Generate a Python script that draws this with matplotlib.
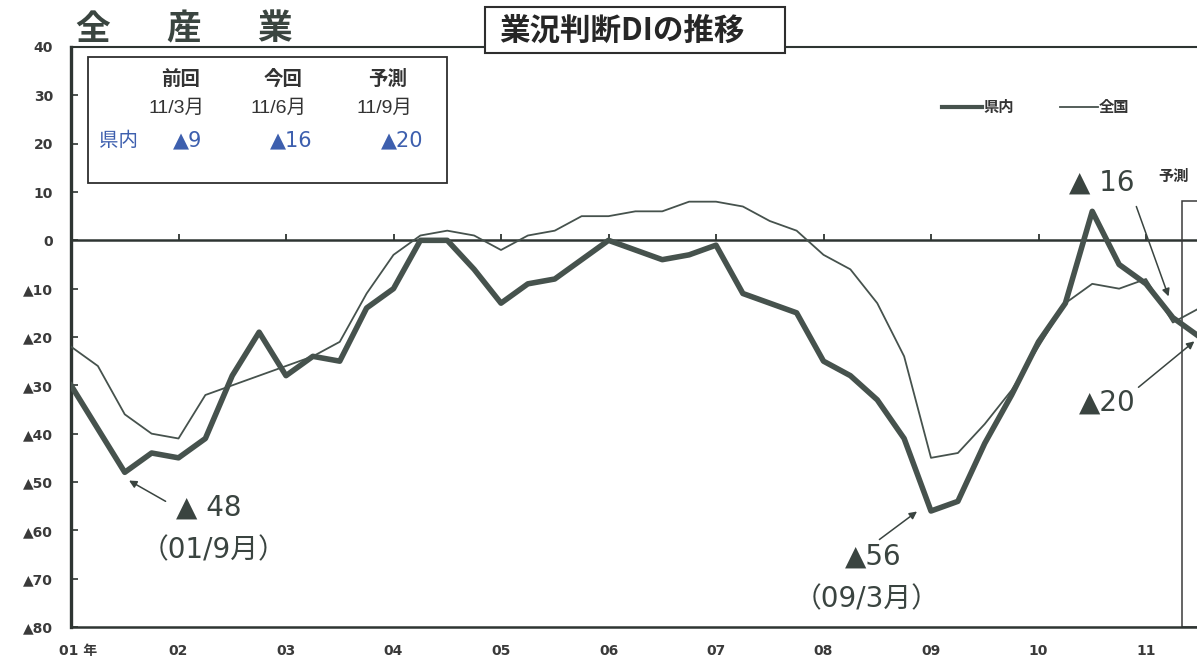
import matplotlib
matplotlib.use("Agg")
import matplotlib.pyplot as plt
from matplotlib.patches import Rectangle

# ---- data: quarterly business-conditions DI (survey months 3, 6, 9, 12) ----
years = list(range(2001, 2012))
quarter_months = [3, 6, 9, 12]

# 県内 (prefecture), 2001/3 ... 2011/9 (last value = forecast)
pref_di = [-30, -39, -48, -44,
           -45, -41, -28, -19,
           -28, -24, -25, -14,
           -10, 0, 0, -6,
           -13, -9, -8, -4,
           0, -2, -4, -3,
           -1, -11, -13, -15,
           -25, -28, -33, -41,
           -56, -54, -42, -32,
           -21, -13, 6, -5,
           -9, -16, -20]

# 全国 (nationwide)
national_di = [-22, -26, -36, -40,
               -41, -32, -30, -28,
               -26, -24, -21, -11,
               -3, 1, 2, 1,
               -2, 1, 2, 5,
               5, 6, 6, 8,
               8, 7, 4, 2,
               -3, -6, -13, -24,
               -45, -44, -38, -31,
               -22, -13, -9, -10,
               -8, -17, -14]

year_labels = ["01 年", "02", "03", "04", "05", "06", "07", "08", "09", "10", "11"]
y_ticks = [40, 30, 20, 10, 0, -10, -20, -30, -40, -50, -60, -70, -80]

summary_heads = ["前回", "今回", "予測"]
summary_periods = ["11/3月", "11/6月", "11/9月"]
summary_values = pref_di[-3:]

series_names = ["県内", "全国"]

# ---- helpers ----
W, H = 1197, 666
LINE = "#46524d"
TEXT = "#333333"
BLUE = "#3d5fae"
JP = ["Noto Sans CJK JP", "DejaVu Sans"]
NUM = ["DejaVu Sans", "Noto Sans CJK JP"]
LAT = ["Liberation Sans", "Noto Sans CJK JP", "DejaVu Sans"]


def fx(px):
    return px / W


def fy(py):
    return 1 - py / H


def tri(v):
    return "▲" + str(abs(v)) if v < 0 else str(v)


periods = [(y, m) for y in years for m in quarter_months][:len(pref_di)]
x = [y + (m - 3) / 12 for y, m in periods]

fig = plt.figure(figsize=(W / 100, H / 100), dpi=100)
fig.patch.set_facecolor("white")

x0, x1 = 2001.0, 2011.6
year_px = 107.5
ax = fig.add_axes([fx(71), fy(627), (x1 - x0) * year_px / W, 580 / H])
ax.set_xlim(x0, x1)
ax.set_ylim(-80, 40)

ax.plot(x, national_di, color=LINE, lw=1.3, solid_joinstyle="round", zorder=3)
ax.plot(x, pref_di, color=LINE, lw=4.0, solid_joinstyle="round", zorder=4)

# zero line with small year marks
ax.axhline(0, color="#2e3532", lw=1.8, zorder=2)
ax.vlines(years[1:], 0, 1.3, color="#2e3532", lw=1.3, zorder=2)

# spines
for side in ["left", "bottom", "top", "right"]:
    ax.spines[side].set_color("#2e3532")
ax.spines["left"].set_linewidth(2.4)
ax.spines["bottom"].set_linewidth(1.8)
ax.spines["top"].set_linewidth(1.5)
ax.spines["right"].set_visible(False)

ax.set_yticks(y_ticks)
ax.set_yticklabels([tri(v) for v in y_ticks], fontsize=10, fontweight="bold",
                   color="#3a3a3a", family=NUM)
ax.tick_params(axis="y", direction="in", length=5, width=1.2, pad=13,
               color="#2e3532")

label_pos = [years[0] + 0.07] + years[1:]
ax.set_xticks(label_pos)
ax.set_xticklabels(year_labels, fontsize=10, fontweight="bold",
                   color="#3a3a3a", family=NUM)
ax.tick_params(axis="x", length=0, pad=12)

# forecast frame
ax.add_patch(Rectangle((2011.335, -80), 1.0, 88.1, fill=False,
                       edgecolor="#3a3a3a", lw=1.1, zorder=2))
ax.text(2011.26, 13.4, "予測", fontsize=11, fontweight="bold", color=TEXT,
        family=JP, ha="center", va="center")

# trough / latest annotations
i_low1 = pref_di.index(min(pref_di[:8]))
i_low2 = pref_di.index(min(pref_di))
ann_kw = dict(color="#3a4440", family=NUM, ha="center", va="center")
ax.text(2002.28, -55.3, "▲ " + str(abs(pref_di[i_low1])), fontsize=20, **ann_kw)
ax.text(2002.33, -64.1, "（%02d/%d月）" % (periods[i_low1][0] % 100, periods[i_low1][1]),
        fontsize=20, **ann_kw)
ax.text(2008.46, -65.4, tri(pref_di[i_low2]), fontsize=20, **ann_kw)
ax.text(2008.40, -74.3, "（%02d/%d月）" % (periods[i_low2][0] % 100, periods[i_low2][1]),
        fontsize=20, **ann_kw)
ax.text(2010.59, 12.0, "▲ " + str(abs(pref_di[-2])), fontsize=20, **ann_kw)
ax.text(2010.64, -33.5, tri(pref_di[-1]), fontsize=20, **ann_kw)

arrow = dict(arrowstyle="-|>", mutation_scale=11, lw=1.1, color="#3a4440",
             shrinkA=0, shrinkB=0)
for head, tail in [((2001.54, -49.7), (2001.88, -54.0)),
                   ((2008.87, -56.1), (2008.52, -61.9)),
                   ((2011.21, -11.6), (2010.91, 7.0)),
                   ((2011.45, -20.9), (2010.93, -30.4))]:
    ax.annotate("", xy=head, xytext=tail, arrowprops=arrow, zorder=5)

# legend
fig.lines.append(plt.Line2D([fx(942), fx(982)], [fy(107), fy(107)],
                            transform=fig.transFigure, color=LINE, lw=3.0))
fig.text(fx(983), fy(107), series_names[0], fontsize=11, fontweight="bold",
         color=TEXT, family=JP, va="center", ha="left")
fig.lines.append(plt.Line2D([fx(1060), fx(1098)], [fy(107), fy(107)],
                            transform=fig.transFigure, color=LINE, lw=1.3))
fig.text(fx(1099), fy(107), series_names[1], fontsize=11, fontweight="bold",
         color=TEXT, family=JP, va="center", ha="left")

# heading
for cx, ch in zip([93, 184, 275], "全産業"):
    fig.text(fx(cx), fy(29), ch, fontsize=25, fontweight="bold",
             color="#3a4540", family=JP, ha="center", va="center")

# title box over the top frame line
fig.patches.append(Rectangle((fx(485), fy(53)), (785 - 485) / W, 46 / H,
                             transform=fig.transFigure, facecolor="white",
                             edgecolor="#2e2e2e", lw=1.5, zorder=5))
fig.text(fx(622), fy(31), "業況判断DIの推移", fontsize=22, fontweight="bold",
         color="#262626", family=JP, ha="center", va="center", zorder=6)

# summary box
fig.patches.append(Rectangle((fx(88), fy(183)), (447 - 88) / W, 126 / H,
                             transform=fig.transFigure, facecolor="white",
                             edgecolor="#2e2e2e", lw=1.3, zorder=5))
cols = [181, 283, 388]
for cx, head, per in zip(cols, summary_heads, summary_periods):
    fig.text(fx(cx), fy(79), head, fontsize=14, fontweight="bold", color=TEXT,
             family=JP, ha="center", va="center", zorder=6)
    fig.text(fx(cx - 4), fy(108), per, fontsize=14, color=TEXT,
             family=LAT, ha="center", va="center", zorder=6)
fig.text(fx(118), fy(140), series_names[0], fontsize=14, color=BLUE,
         family=JP, ha="center", va="center", zorder=6)
for cx, v in zip([188, 291, 402], summary_values):
    fig.text(fx(cx), fy(140), tri(v), fontsize=15, color=BLUE,
             family=NUM, ha="center", va="center", zorder=6)

fig.savefig("out.png", dpi=100, facecolor="white")
